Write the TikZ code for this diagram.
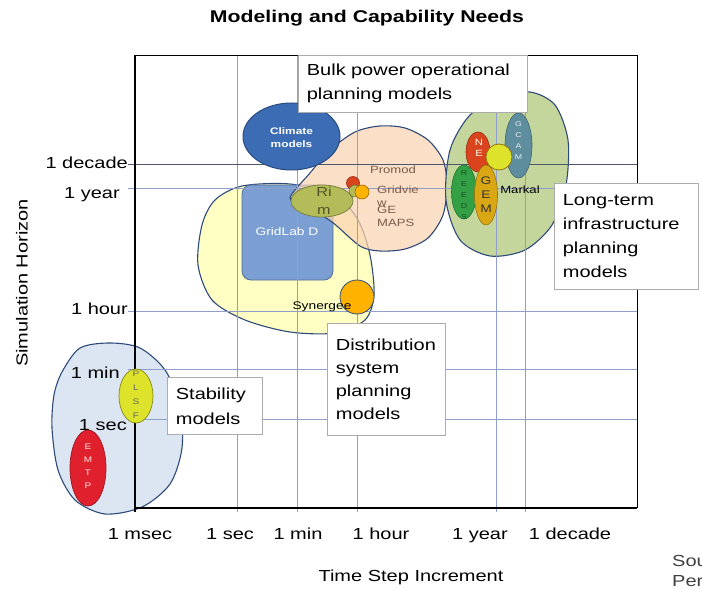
\documentclass[tikz,border=0pt]{standalone}
\usepackage{fontspec}
\setmainfont{Liberation Sans}[FakeStretch=1.25]
\usetikzlibrary{positioning}

\definecolor{gridblue}{HTML}{8E9FCB}
\definecolor{blobline}{HTML}{2E4A7A}
\definecolor{climblue}{HTML}{3C6CB4}
\definecolor{labblue}{HTML}{7B9FD3}
\definecolor{peach}{HTML}{FBD3B2}
\definecolor{paleyel}{HTML}{FFFFC4}
\definecolor{olivegrn}{HTML}{C4D69C}
\definecolor{stabblue}{HTML}{DCE6F2}
\definecolor{rimgrn}{HTML}{B3BC58}
\definecolor{syner}{HTML}{FFB300}
\definecolor{gcam}{HTML}{5E8E9E}
\definecolor{nemsred}{HTML}{D9441E}
\definecolor{reeds}{HTML}{33A045}
\definecolor{gemgold}{HTML}{D9A614}
\definecolor{limey}{HTML}{DDE22A}
\definecolor{emtpred}{HTML}{E0202C}
\definecolor{txtbrown}{HTML}{7A5C4C}

\begin{document}
\begin{tikzpicture}[x=1pt,y=-1pt,
	blob/.style={draw=blobline, line width=1.1pt},
	gridln/.style={draw=gridblue, line width=0.6pt},
	tick/.style={font=\fontsize{16}{18}\selectfont, inner sep=0pt},
	notebox/.style={draw=gray!65, fill=white, line width=0.7pt, anchor=north west,
		align=left, inner xsep=8.5pt, inner ysep=0pt, font=\fontsize{16}{24}\selectfont},
	letters/.style={align=center, inner sep=0pt, font=\fontsize{7}{11}\selectfont},
	model/.style={inner sep=0pt, font=\fontsize{10.5}{13}\selectfont}]
	\fill [white] (0,0) rectangle (702,591);
	\useasboundingbox (0,0) rectangle (702,591);
	% titles
	\node [font=\bfseries\fontsize{17}{20}\selectfont] (title) at (367,18) {Modeling and Capability Needs};
	\node [tick, rotate=90] (ylabel) at (22,283) {Simulation Horizon};
	\node [tick] (xlabel) at (411,577) {Time Step Increment};
	\node [tick, anchor=west, text=black!75] (srcA) at (672,561) {Sou};
	\node [tick, anchor=west, text=black!75] (srcB) at (672,581) {Per};
	% big regions
	\filldraw [blob, fill=stabblue] plot [smooth cycle] coordinates
	{(62,372) (80,348) (110,343) (140,348) (165,370) (180,405) (182,448)
	(170,484) (142,507) (105,514) (75,500) (58,470) (52,428) (54,395)};
	\filldraw [blob, fill=paleyel] plot [smooth cycle] coordinates
	{(215,200) (242,186) (290,184) (335,195) (358,220) (370,255) (374,295)
	(365,320) (335,333) (290,332) (245,320) (212,300) (198,265) (202,225)};
	\filldraw [draw=labblue!70!black, fill=labblue, line width=0.8pt, rounded corners=9pt]
	(242,185) rectangle (333,280);
	\filldraw [blob, fill=peach, fill opacity=0.72] plot [smooth cycle] coordinates
	{(290,198) (310,173) (330,150) (355,132) (380,126) (405,128) (428,140) (443,160)
	(447,185) (443,215) (428,238) (405,249) (380,251) (360,246) (332,222) (306,206)};
	\filldraw [blob, fill=olivegrn] plot [smooth cycle] coordinates
	{(446,200) (450,150) (470,115) (500,98) (530,92) (555,105) (568,140)
	(566,185) (552,225) (525,250) (490,256) (460,240)};
	% grid
	\foreach \gx in {237,297,357,496,525}
	\draw [gridln] (\gx,55) -- (\gx,512);
	\foreach \gy in {188,311,369,419}
	\draw [gridln] (128,\gy) -- (637,\gy);
	\draw [gridln, draw=gridblue!55!black] (128,164) -- (637,164);
	% frame
	\draw [line width=0.8pt] (135,55) -- (637,55) -- (637,508);
	\draw [line width=1.3pt] (135,55) -- (135,512);
	\draw [line width=1.3pt] (135,508) -- (637,508);
	% tick labels
	\node [tick, anchor=east] (ydecade) at (128,163) {1 decade};
	\node [tick, anchor=east] (yyear) at (120,195) {1 year};
	\node [tick, anchor=east] (yhour) at (128,309) {1 hour};
	\node [tick, anchor=east] (ymin) at (120,373) {1 min};
	\node [tick, anchor=east] (ysec) at (127,425) {1 sec};
	\node [tick, anchor=base] (xmsec) at (140,539) {1 msec};
	\node [tick, anchor=base] (xsec) at (230,539) {1 sec};
	\node [tick, anchor=base] (xmin) at (298,539) {1 min};
	\node [tick, anchor=base] (xhour) at (381,539) {1 hour};
	\node [tick, anchor=base] (xyear) at (480,539) {1 year};
	\node [tick, anchor=base] (xdecade) at (570,539) {1 decade};
	% climate
	\filldraw [draw=climblue!70!black, fill=climblue, line width=1pt]
	(291.5,136.5) ellipse [x radius=48.5, y radius=33.5];
	\node [text=white, align=center, inner sep=0pt, font=\bfseries\fontsize{9.5}{13}\selectfont]
	(climate) at (291.5,137.5) {Climate\\models};
	\node [model, text=white, font=\fontsize{11}{13}\selectfont] (gridlab) at (287,232) {GridLab D};
	% bulk power models
	\filldraw [draw=rimgrn!70!black, fill=rimgrn, line width=0.8pt]
	(322,201) ellipse [x radius=31, y radius=16];
	\node [text=rimgrn!45!black, align=center, inner sep=0pt, font=\fontsize{13}{18}\selectfont]
	(rim) at (324,201) {Ri\\m};
	\filldraw [draw=nemsred!70!black, fill=nemsred, line width=0.6pt] (353,183) circle [radius=6.5];
	\filldraw [draw=rimgrn!60!black, fill=rimgrn, line width=0.6pt] (355,191) circle [radius=6];
	\filldraw [draw=syner!60!black, fill=syner, line width=0.6pt] (362,192) circle [radius=7];
	\node [model, text=txtbrown] (promod) at (393,170) {Promod};
	\node [model, text=txtbrown, anchor=north west, align=left] (gridview) at (377,186) {Gridvie\\w};
	\node [model, text=txtbrown, anchor=north west, align=left] (gemaps) at (377,206) {GE\\MAPS};
	% distribution
	\filldraw [draw=blobline, fill=syner, line width=0.8pt] (357,297) circle [radius=17];
	\node [model, font=\fontsize{11}{13}\selectfont] (synergee) at (322,307) {Synergee};
	% long-term models
	\filldraw [draw=gcam!70!black, fill=gcam, line width=0.6pt]
	(518.5,145.5) ellipse [x radius=13.5, y radius=32.5];
	\node [letters, text=white!85!gcam] (gcamtx) at (518.5,141) {G\\C\\A\\M};
	\filldraw [draw=nemsred!70!black, fill=nemsred, line width=0.6pt]
	(478,152) ellipse [x radius=12, y radius=20];
	\node [letters, text=white!90!yellow, font=\fontsize{9}{11}\selectfont] (nems) at (479,148) {N\\E};
	\filldraw [draw=reeds!70!black, fill=reeds, line width=0.6pt]
	(464,192) ellipse [x radius=12.5, y radius=27];
	\node [letters, text=reeds!50!black] (reedstx) at (464,195) {R\\E\\E\\D\\S};
	\filldraw [draw=gemgold!70!black, fill=gemgold, line width=0.6pt]
	(486,195) ellipse [x radius=11.5, y radius=30];
	\node [letters, text=black!80, font=\fontsize{11}{14}\selectfont] (gem) at (486,195) {G\\E\\M};
	\filldraw [draw=gemgold!70!black, fill=limey, line width=0.8pt] (499,157) circle [radius=13];
	\node [model] (markal) at (520,190) {Markal};
	% stability models
	\filldraw [draw=limey!60!black, fill=limey, line width=0.7pt]
	(136,396) ellipse [x radius=17, y radius=27];
	\node [letters, text=black!60, font=\fontsize{8}{14}\selectfont] (pslf) at (136,395) {P\\L\\S\\F};
	\filldraw [draw=emtpred!70!black, fill=emtpred, line width=0.7pt]
	(88,468) ellipse [x radius=18, y radius=38];
	\node [letters, text=white!90!red, font=\fontsize{8}{13}\selectfont] (emtp) at (88,466) {E\\M\\T\\P};
	% label boxes
	\node [notebox, minimum width=229pt, minimum height=57pt, text width=212pt] (bulkbox) at (298,55)
	{Bulk power operational\\planning models};
	\node [notebox, minimum width=144pt, minimum height=106pt, text width=127pt] (longbox) at (554,183)
	{Long-term\\infrastructure\\planning\\models};
	\node [notebox, minimum width=118pt, minimum height=112pt, text width=101pt,
	font=\fontsize{16}{23}\selectfont] (distbox) at (327,323)
	{Distribution\\system\\planning\\models};
	\node [notebox, minimum width=95pt, minimum height=57pt, text width=78pt,
	font=\fontsize{16}{25}\selectfont] (stabbox) at (167,377)
	{Stability\\models};
\end{tikzpicture}
\end{document}
